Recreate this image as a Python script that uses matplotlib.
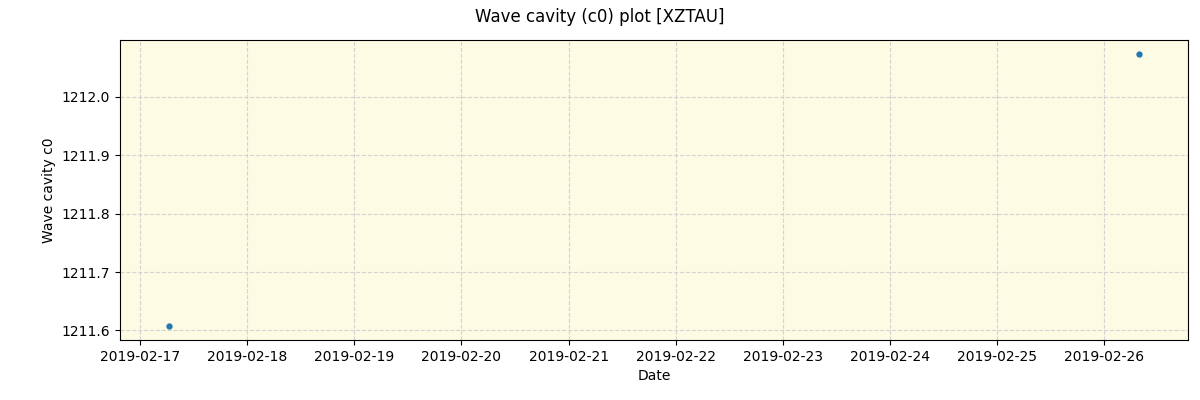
import numpy as np
import pandas as pd
import matplotlib
matplotlib.use("Agg")
import matplotlib.pyplot as plt
import matplotlib.dates as mdates

# values
dates = pd.to_datetime(["2019-02-17 06:25", "2019-02-26 07:50"])
c0 = [1211.607, 1212.074]
station = "XZTAU"

fig, ax = plt.subplots(figsize=(12, 4), dpi=100)
fig.subplots_adjust(left=0.1, right=0.99, top=0.9, bottom=0.15)
ax.set_facecolor("#fdfbe3")
ax.plot(dates, c0, "o", markersize=3.5, color="tab:blue", zorder=3)
ax.grid(True, linestyle="--", color="lightgray", zorder=0)
ax.set_axisbelow(True)

ax.xaxis.set_major_locator(mdates.DayLocator())
ax.xaxis.set_major_formatter(mdates.DateFormatter("%Y-%m-%d"))
ax.set_xlabel("Date")
ax.set_ylabel("Wave cavity c0")
fig.suptitle("Wave cavity (c0) plot [" + station + "]")

fig.savefig("out.png")
